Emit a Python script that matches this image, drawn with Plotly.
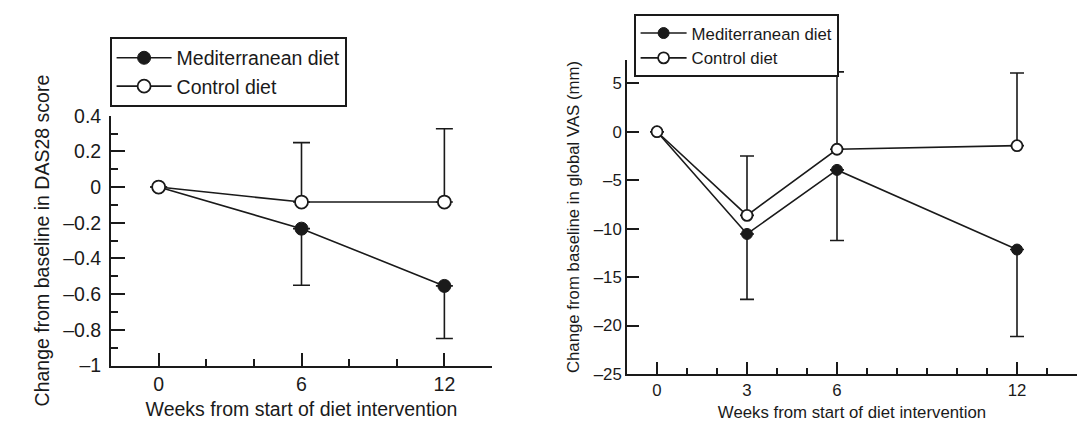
import plotly.graph_objects as go

W, H = 1078, 428

# ---------------- data ----------------
series_names = ["Mediterranean diet", "Control diet"]

weeks_das = [0, 6, 12]
med_das = [0, -0.233, -0.554]
med_das_err_minus = [0, 0.317, 0.295]
ctrl_das = [0, -0.084, -0.084]
ctrl_das_err_plus = [0, 0.333, 0.411]

weeks_vas = [0, 3, 6, 12]
med_vas = [0, -10.55, -3.94, -12.16]
med_vas_err_minus = [0, 6.75, 7.29, 8.97]
ctrl_vas = [0, -8.63, -1.81, -1.44]
ctrl_vas_err_plus = [0, 6.13, 7.98, 7.5]

das_ytick_vals = [0.4, 0.2, 0, -0.2, -0.4, -0.6, -0.8, -1]
das_ytick_text = ["0.4", "0.2", "0", "–0.2", "–0.4", "–0.6", "–0.8", "–1"]
das_xtick_vals = [0, 6, 12]
das_xtick_text = ["0", "6", "12"]

vas_ytick_vals = [5, 0, -5, -10, -15, -20, -25]
vas_ytick_text = ["5", "0", "–5", "–10", "–15", "–20", "–25"]
vas_xtick_vals = [0, 3, 6, 12]
vas_xtick_text = ["0", "3", "6", "12"]

das_ytitle = "Change from baseline in DAS28 score"
vas_ytitle = "Change from baseline in global VAS (mm)"
xtitle = "Weeks from start of diet intervention"

# ---------------- style ----------------
INK = "#1a1a1a"
FONT = "Liberation Sans"
FS_L = 19.5
FS_R = 16.8


def px_x(p):
    return p / W


def px_y(p):
    return 1 - p / H


fig = go.Figure()


def add_pair(xv, med, med_err, ctrl, ctrl_err, xa, ya, legend, msize, capw):
    fig.add_trace(go.Scatter(
        x=xv, y=med, name=series_names[0], mode="lines+markers",
        xaxis=xa, yaxis=ya, legend=legend,
        line=dict(color=INK, width=1.6),
        marker=dict(symbol="circle", size=msize, color=INK,
                    line=dict(color=INK, width=1)),
        error_y=dict(type="data", symmetric=False, array=[0] * len(med),
                     arrayminus=med_err, color=INK, thickness=1.6, width=capw),
    ))
    fig.add_trace(go.Scatter(
        x=xv, y=ctrl, name=series_names[1], mode="lines+markers",
        xaxis=xa, yaxis=ya, legend=legend,
        line=dict(color=INK, width=1.6),
        marker=dict(symbol="circle", size=msize, color="white",
                    line=dict(color=INK, width=1.8)),
        error_y=dict(type="data", symmetric=False, array=ctrl_err,
                     arrayminus=[0] * len(ctrl), color=INK, thickness=1.6, width=capw),
    ))


add_pair(weeks_das, med_das, med_das_err_minus, ctrl_das, ctrl_das_err_plus,
         "x", "y", "legend", 13, 8.5)
add_pair(weeks_vas, med_vas, med_vas_err_minus, ctrl_vas, ctrl_vas_err_plus,
         "x2", "y2", "legend2", 11, 7)

axis_common = dict(showgrid=False, zeroline=False, showline=True, linecolor=INK,
                   linewidth=1.8, tickcolor=INK, tickwidth=1.8,
                   tickmode="array", automargin=False)


def minor_ticks(step, length):
    return dict(tickmode="linear", tick0=0, dtick=step, ticks="inside",
                ticklen=length, tickcolor=INK, tickwidth=1.8)


fig.update_layout(
    width=W, height=H, autosize=False,
    margin=dict(l=0, r=0, t=0, b=0, pad=0),
    paper_bgcolor="white", plot_bgcolor="white",
    font=dict(family=FONT, color=INK),
    xaxis=dict(**axis_common, domain=[px_x(111), px_x(492)], range=[-2, 14],
               anchor="y", tickvals=das_xtick_vals, ticktext=das_xtick_text,
               ticks="inside", ticklen=13, tickfont=dict(size=FS_L),
               minor=minor_ticks(2, 7),
               title=dict(text=xtitle, font=dict(size=FS_L), standoff=9)),
    yaxis=dict(**axis_common, domain=[px_y(365.5), px_y(115.7)], range=[-1, 0.4],
               anchor="x", tickvals=das_ytick_vals, ticktext=das_ytick_text,
               ticks="inside", ticklen=14, tickfont=dict(size=FS_L),
               ticklabelstandoff=4, minor=minor_ticks(0.1, 7),
               title=dict(text=das_ytitle, font=dict(size=FS_L), standoff=8)),
    xaxis2=dict(**axis_common, domain=[px_x(627), px_x(1077)], range=[-1, 14],
                anchor="y2", tickvals=vas_xtick_vals, ticktext=vas_xtick_text,
                ticks="inside", ticklen=12, tickfont=dict(size=FS_R),
                minor=minor_ticks(1, 6),
                title=dict(text=xtitle, font=dict(size=FS_R), standoff=7)),
    yaxis2=dict(**axis_common, domain=[px_y(374), px_y(60)], range=[-25, 7.4],
                anchor="x2", tickvals=vas_ytick_vals, ticktext=vas_ytick_text,
                ticks="inside", ticklen=12, tickfont=dict(size=FS_R),
                title=dict(text=vas_ytitle, font=dict(size=FS_R), standoff=10)),
    legend=dict(x=px_x(110), y=px_y(37), xanchor="left", yanchor="top",
                bordercolor=INK, borderwidth=1.6, bgcolor="white",
                font=dict(size=FS_L, family=FONT, color=INK), itemwidth=55,
                tracegroupgap=0),
    legend2=dict(x=px_x(634), y=px_y(14), xanchor="left", yanchor="top",
                 bordercolor=INK, borderwidth=1.6, bgcolor="white",
                 font=dict(size=FS_R, family=FONT, color=INK), itemwidth=46,
                 tracegroupgap=0),
    showlegend=True,
)

fig.write_html("out.html")
